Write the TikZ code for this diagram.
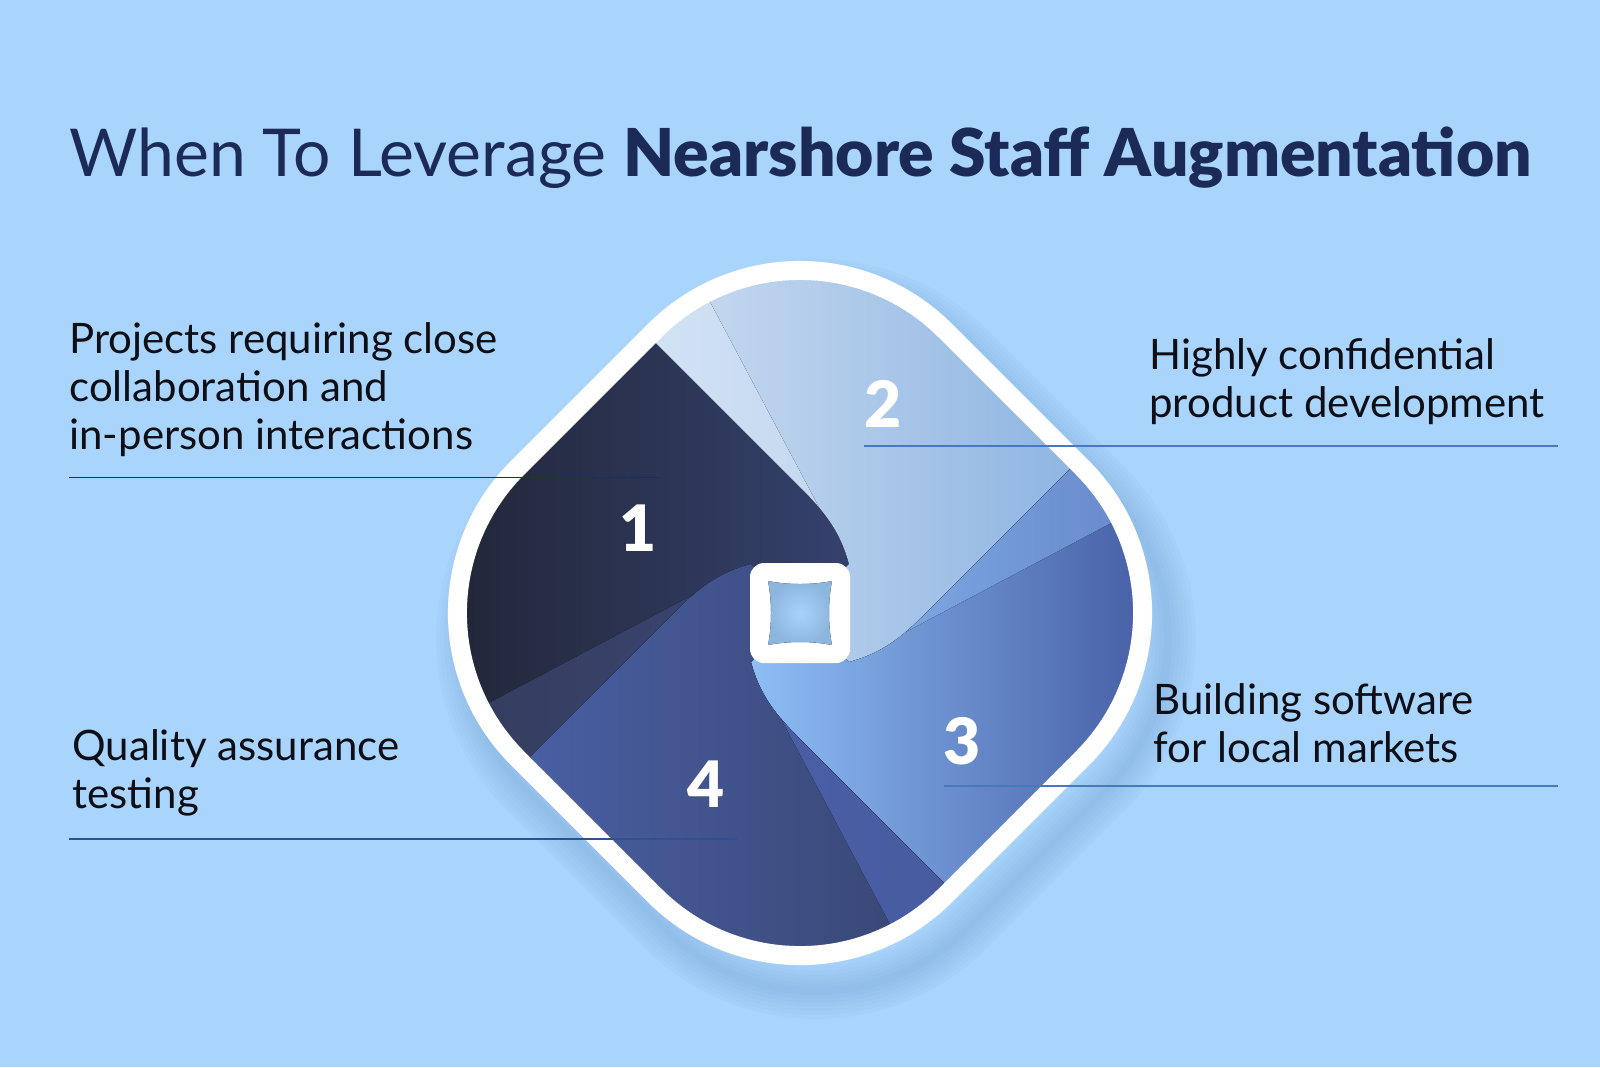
\documentclass[tikz,border=0pt]{standalone}
\usepackage{fontspec}
\setmainfont{Lato}
\IfFontExistsTF{Lato Black}{\newfontfamily\heavyfont{Lato Black}}{\newfontfamily\heavyfont{Lato}[UprightFont=*-Bold]}
\usetikzlibrary{positioning}

\definecolor{bgblue}{HTML}{A9D4FC}
\definecolor{titlec}{HTML}{1B2A57}
\definecolor{bodytext}{HTML}{0E0F16}
\definecolor{shadowc}{HTML}{5F8CC4}
\definecolor{ruledark}{HTML}{1E2F5E}
\definecolor{rulemid}{HTML}{2F528E}
\definecolor{rulelight}{HTML}{4A78C0}
\definecolor{segAl}{HTML}{22283A}
\definecolor{segAr}{HTML}{36426F}
\definecolor{wedAl}{HTML}{333A58}
\definecolor{wedAr}{HTML}{3A4470}
\definecolor{segBl}{HTML}{CCDDF1}
\definecolor{segBr}{HTML}{86B0E0}
\definecolor{wedBl}{HTML}{E8F1FC}
\definecolor{wedBr}{HTML}{C2D7EF}
\definecolor{segCl}{HTML}{8EBEF6}
\definecolor{segCr}{HTML}{4962A8}
\definecolor{wedCl}{HTML}{80ACE6}
\definecolor{wedCr}{HTML}{5E7DC2}
\definecolor{segDl}{HTML}{4B63AA}
\definecolor{segDr}{HTML}{37446F}
\definecolor{wedDl}{HTML}{4A5FA6}
\definecolor{wedDr}{HTML}{44569A}
\definecolor{holedark}{HTML}{8DB6DF}
\definecolor{holelight}{HTML}{A8D2FA}

\begin{document}
\begin{tikzpicture}[x=0.5pt,y=-0.5pt,
  item/.style={anchor=base west, align=left, inner sep=0pt,
    font=\fontsize{21}{24}\selectfont, text=bodytext},
  num/.style={inner sep=0pt, font=\fontsize{32}{32}\heavyfont, text=white},
  rule/.style={line width=0.75pt}]

  % Background
  \fill[bgblue] (0,0) rectangle (1600,1067);
  \useasboundingbox (0,0) rectangle (1600,1067);

  % Title
  \node[anchor=base west, inner sep=0pt, font=\fontsize{33}{34}\selectfont, text=titlec]
    (title) at (69,176) {When To Leverage {\heavyfont Nearshore Staff Augmentation}};

  \begin{scope}[shift={(800,613)}]
    % Soft shadow
    \foreach \s in {4,8,...,28}
      \draw[shadowc, opacity=0.045, line width=\s pt, rounded corners=107.5pt]
        (16,-415) -- (457,26) -- (16,467) -- (-425,26) -- cycle;

    % The four swirl segments
    \begin{scope}
      \clip[rounded corners=102.75pt] (0,-427.7) -- (427.7,0) -- (0,427.7) -- (-427.7,0) -- cycle;
      % segment 1
      \begin{scope}
        \clip (-368,242) -- (-268,142) -- (-124,-2) .. controls (-99,-27) and (-79,-41) .. (-49,-49)
          -- (0,0) -- (49,-49) .. controls (41,-79) and (27,-99) .. (2,-124) -- (-142,-268)
          -- (-242,-368) -- (-600,0) -- cycle;
        \fill[left color=segAl, right color=segAr] (-334,-334) rectangle (60,334);
        \fill[left color=wedAl, right color=wedAr] (-428,152) -- (-55.6,-45.5) -- (-55.6,400) -- (-428,400) -- cycle;
      \end{scope}
      % segment 2
      \begin{scope}
        \clip (-242,-368) -- (-142,-268) -- (2,-124) .. controls (27,-99) and (41,-79) .. (49,-49)
          -- (0,0) -- (49,49) .. controls (79,41) and (99,27) .. (124,2) -- (268,-142)
          -- (368,-242) -- (0,-600) -- cycle;
        \fill[left color=segBl, right color=segBr] (-160,-334) rectangle (334,334);
        \fill[left color=wedBl, right color=wedBr] (-152,-428) -- (45.5,-55.6) -- (-400,-55.6) -- (-400,-428) -- cycle;
      \end{scope}
      % segment 3
      \begin{scope}
        \clip (368,-242) -- (268,-142) -- (124,2) .. controls (99,27) and (79,41) .. (49,49)
          -- (0,0) -- (-49,49) .. controls (-41,79) and (-27,99) .. (-2,124) -- (142,268)
          -- (242,368) -- (600,0) -- cycle;
        \fill[left color=segCl, right color=segCr] (-50,-334) rectangle (334,334);
        \fill[left color=wedCl, right color=wedCr] (428,-152) -- (55.6,45.5) -- (55.6,-400) -- (428,-400) -- cycle;
      \end{scope}
      % segment 4
      \begin{scope}
        \clip (242,368) -- (142,268) -- (-2,124) .. controls (-27,99) and (-41,79) .. (-49,49)
          -- (0,0) -- (-49,-49) .. controls (-79,-41) and (-99,-27) .. (-124,-2) -- (-268,142)
          -- (-368,242) -- (0,600) -- cycle;
        \fill[left color=segDl, right color=segDr] (-334,-334) rectangle (160,334);
        \fill[left color=wedDl, right color=wedDr] (152,428) -- (-45.5,55.6) -- (400,55.6) -- (400,428) -- cycle;
      \end{scope}
    \end{scope}

    % White border
    \draw[white, line width=9.5pt, rounded corners=102.75pt]
      (0,-427.7) -- (427.7,0) -- (0,427.7) -- (-427.7,0) -- cycle;

    % Centre hole
    \fill[white, rounded corners=7pt] (-50,-50) rectangle (50,50);
    \fill[inner color=holelight, outer color=holedark]
      (-32,-32) .. controls (-12,-28) and (12,-28) .. (32,-32)
      .. controls (28,-12) and (28,12) .. (32,32)
      .. controls (12,28) and (-12,28) .. (-32,32)
      .. controls (-28,12) and (-28,-12) .. (-32,-32) -- cycle;
  \end{scope}

  % Numbers
  \node[num] (n1) at (638,528) {1};
  \node[num] (n2) at (883,404) {2};
  \node[num] (n3) at (962,741) {3};
  \node[num] (n4) at (706,784) {4};

  % Rules
  \coordinate (r1a) at (69,477.5);  \coordinate (r1b) at (659,477.5);
  \coordinate (r2a) at (864,446);   \coordinate (r2b) at (1558,446);
  \coordinate (r3a) at (944,786);   \coordinate (r3b) at (1558,786);
  \coordinate (r4a) at (69,839);    \coordinate (r4b) at (737,839);
  \draw[rule, ruledark] (r1a) -- (r1b);
  \draw[rule, rulelight] (r2a) -- (r2b);
  \draw[rule, rulelight] (r3a) -- (r3b);
  \draw[rule, rulemid] (r4a) -- (r4b);

  % Labels (anchored at the last baseline)
  \node[item] (t1) at (69,449) {Projects requiring close\\collaboration and\\in-person interactions};
  \node[item] (t2) at (1149,417) {Highly confidential\\product development};
  \node[item] (t3) at (1153,762) {Building software\\for local markets};
  \node[item] (t4) at (72,808) {Quality assurance\\testing};
\end{tikzpicture}
\end{document}
